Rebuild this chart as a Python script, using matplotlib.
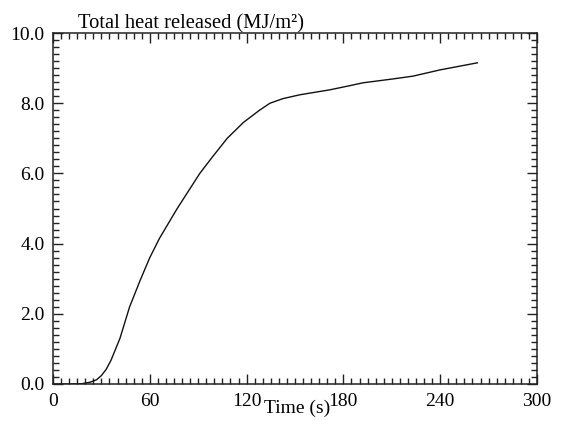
import matplotlib
matplotlib.use("Agg")
import matplotlib.pyplot as plt
from matplotlib.ticker import MultipleLocator, FormatStrFormatter

# values
time_s = [0, 10, 18, 23, 27, 30, 33, 36, 41.5, 47.5, 54, 60, 66, 77, 84, 91,
          98.5, 108, 118, 128, 134.5, 142.5, 153, 163.5, 171.5, 184, 192,
          210.5, 223, 240, 263]
heat = [0, 0, 0.01, 0.05, 0.12, 0.24, 0.42, 0.68, 1.3, 2.2, 2.95, 3.6, 4.15,
        5.0, 5.5, 6.0, 6.45, 7.0, 7.45, 7.8, 8.0, 8.13, 8.24, 8.32, 8.38, 8.5,
        8.58, 8.69, 8.77, 8.95, 9.15]

x_ticks = [0, 60, 120, 180, 240, 300]
y_ticks = [0, 2, 4, 6, 8, 10]

plt.rcParams['font.family'] = ['Liberation Serif', 'DejaVu Serif']

fig = plt.figure(figsize=(5.65, 4.21), dpi=100)
ax = fig.add_axes([0.0938, 0.0879, 0.8566, 0.8337])

ax.plot(time_s, heat, color='#111111', lw=1.0)

ax.set_xlim(0, 300)
ax.set_ylim(0, 10)
ax.set_xticks(x_ticks)
ax.set_yticks(y_ticks)
ax.xaxis.set_minor_locator(MultipleLocator(5))
ax.yaxis.set_minor_locator(MultipleLocator(0.2))
ax.yaxis.set_major_formatter(FormatStrFormatter('%.1f'))

ax.tick_params(which='both', direction='in', top=True, right=True,
               width=1.0, colors='#222222', labelcolor='black')
ax.tick_params(which='major', length=7)
ax.tick_params(which='minor', length=4)
ax.tick_params(axis='x', which='major', pad=6.5, labelsize=14)
ax.tick_params(axis='y', which='major', pad=6, labelsize=14)

for s in ax.spines.values():
    s.set_linewidth(1.1)
    s.set_color('#222222')

ax.set_xlabel('Time (s)', fontsize=14)
ax.xaxis.set_label_coords(0.505, -0.046)

fig.text(78 / 565, 1 - 28 / 421, 'Total heat released (MJ/m²)',
         fontsize=14.8, va='baseline', ha='left')

fig.savefig('out.png', dpi=100)
